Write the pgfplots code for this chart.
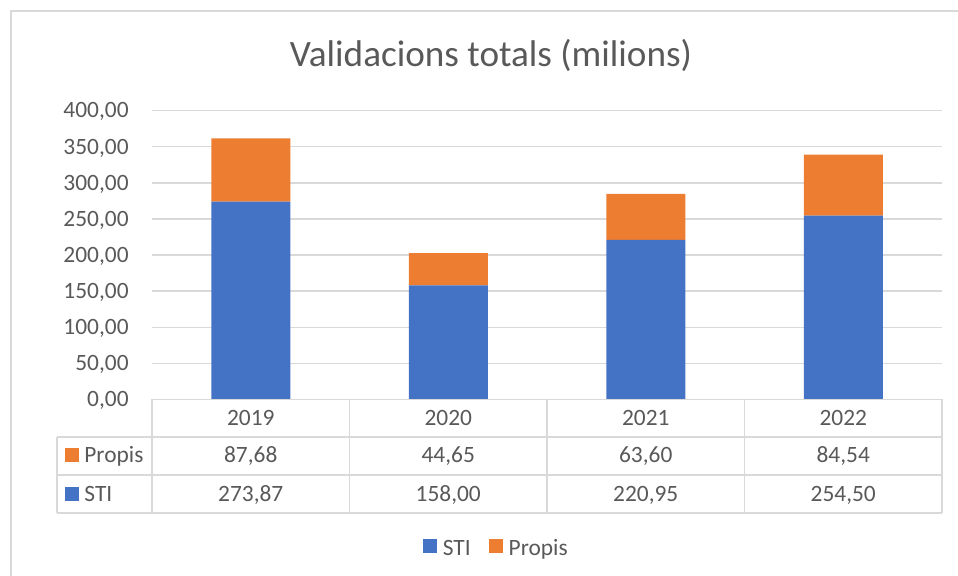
\documentclass[border=0pt]{standalone}
\usepackage{pgfplots}
\pgfplotsset{compat=1.18}
\usepackage{fontspec}
\setmainfont{Carlito}
\definecolor{cblue}{HTML}{4472C4}
\definecolor{corange}{HTML}{ED7D31}
\definecolor{ctext}{HTML}{595959}
\definecolor{cline}{HTML}{D9D9D9}
\newcommand\tf{\fontsize{11.7}{14}\selectfont}
\begin{document}
\begin{tikzpicture}[x=0.5pt,y=-0.5pt]
\useasboundingbox (0,0) rectangle (958,576);
\draw[cline, line width=0.75pt] (11,11) rectangle (975,600);
\node[anchor=base, text=ctext, font=\fontsize{18.6}{22}\selectfont, inner sep=0pt] at (491,67) {Validacions totals (milions)};
\begin{axis}[at={(76pt,-199.75pt)}, anchor=south west, scale only axis,
  width=395pt, height=144.5pt,
  ybar stacked, bar width=39.5pt,
  xmin=-0.5, xmax=3.5, ymin=0, ymax=400,
  xtick=\empty, ytick={0,50,...,400},
  axis line style={draw=none}, major tick length=0pt,
  ymajorgrids, grid style={cline, line width=0.75pt},
  yticklabel style={font=\tf, text=ctext, anchor=base east, inner sep=0pt, xshift=-11.5pt, yshift=-3.7pt,
    /pgf/number format/fixed, /pgf/number format/fixed zerofill, /pgf/number format/precision=2,
    /pgf/number format/use comma, /pgf/number format/assume math mode=true},
  legend style={at={(axis description cs:0.437,-0.517)}, anchor=center, draw=none, fill=none,
    legend columns=-1, font=\tf, text=ctext, inner sep=0pt,
    /tikz/every odd column/.append style={column sep=1pt},
    /tikz/every even column/.append style={column sep=7pt}},
]
\addplot[fill=cblue, draw=none, legend image code/.code={\fill[cblue] (0pt,-2pt) rectangle (7pt,5pt);}]
  coordinates {(0,273.87) (1,158.00) (2,220.95) (3,254.50)};
\addplot[fill=corange, draw=none, legend image code/.code={\fill[corange] (0pt,-2pt) rectangle (7pt,5pt);}]
  coordinates {(0,87.68) (1,44.65) (2,63.60) (3,84.54)};
\legend{STI, Propis}
\end{axis}
% data table grid
\begin{scope}[cline, line width=0.75pt]
\draw (152,399.5) -- (942,399.5);
\foreach \xx in {152,349.5,547,744.5,942} \draw (\xx,399.5) -- (\xx,513);
\foreach \yy in {437,475,513} \draw (57,\yy) -- (942,\yy);
\draw (57,437) -- (57,513);
\end{scope}
\begin{scope}[every node/.style={font=\tf, text=ctext, inner sep=0pt, anchor=base}]
\foreach \xx/\t in {250.75/2019,448.25/2020,645.75/2021,843.25/2022} \node at (\xx,426) {\t};
\foreach \xx/\t in {250.75/{87,68},448.25/{44,65},645.75/{63,60},843.25/{84,54}} \node at (\xx,463) {\t};
\foreach \xx/\t in {250.75/{273,87},448.25/{158,00},645.75/{220,95},843.25/{254,50}} \node at (\xx,501.5) {\t};
\node[anchor=base west] at (84,463) {Propis};
\node[anchor=base west] at (84,501.5) {STI};
\end{scope}
\fill[corange] (65,448) rectangle (79,462);
\fill[cblue] (65,487) rectangle (79,501);
\end{tikzpicture}
\end{document}
